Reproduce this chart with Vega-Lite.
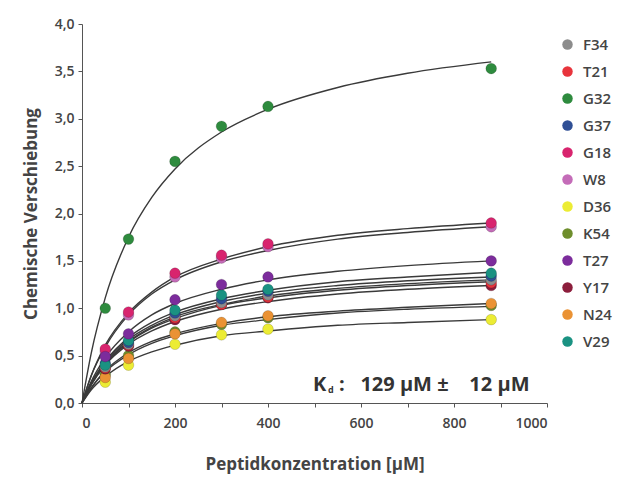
{
  "$schema": "https://vega.github.io/schema/vega-lite/v6.json",
  "width": 465,
  "height": 379,
  "autosize": {"type": "none"},
  "padding": {"left": 82, "top": 24, "right": 83, "bottom": 74},
  "background": "white",
  "config": {
    "view": {"stroke": null},
    "font": "Open Sans",
    "axis": {
      "domainColor": "#555555",
      "tickColor": "#555555",
      "labelColor": "#444444",
      "labelFont": "Open Sans",
      "labelFontSize": 14,
      "labelFontWeight": 600,
      "titleFont": "Open Sans",
      "titleFontSize": 17,
      "titleFontWeight": "bold",
      "titleColor": "#444444",
      "grid": false,
      "tickSize": 4
    }
  },
  "datasets": {
    "curves": [
      {"s":"G32","x":0,"y":0},{"s":"G32","x":20,"y":0.53},{"s":"G32","x":50,"y":1.11},{"s":"G32","x":100,"y":1.75},{"s":"G32","x":150,"y":2.17},{"s":"G32","x":200,"y":2.47},{"s":"G32","x":300,"y":2.86},{"s":"G32","x":400,"y":3.10},{"s":"G32","x":550,"y":3.33},{"s":"G32","x":700,"y":3.48},{"s":"G32","x":880,"y":3.60},
      {"s":"G18","x":0,"y":0},{"s":"G18","x":20,"y":0.29},{"s":"G18","x":50,"y":0.61},{"s":"G18","x":100,"y":0.95},{"s":"G18","x":150,"y":1.17},{"s":"G18","x":200,"y":1.33},{"s":"G18","x":300,"y":1.52},{"s":"G18","x":400,"y":1.65},{"s":"G18","x":550,"y":1.77},{"s":"G18","x":700,"y":1.84},{"s":"G18","x":880,"y":1.90},
      {"s":"W8","x":0,"y":0},{"s":"W8","x":20,"y":0.29},{"s":"W8","x":50,"y":0.59},{"s":"W8","x":100,"y":0.93},{"s":"W8","x":150,"y":1.15},{"s":"W8","x":200,"y":1.30},{"s":"W8","x":300,"y":1.49},{"s":"W8","x":400,"y":1.61},{"s":"W8","x":550,"y":1.73},{"s":"W8","x":700,"y":1.80},{"s":"W8","x":880,"y":1.86},
      {"s":"T27","x":0,"y":0},{"s":"T27","x":20,"y":0.23},{"s":"T27","x":50,"y":0.48},{"s":"T27","x":100,"y":0.75},{"s":"T27","x":150,"y":0.93},{"s":"T27","x":200,"y":1.05},{"s":"T27","x":300,"y":1.20},{"s":"T27","x":400,"y":1.30},{"s":"T27","x":550,"y":1.39},{"s":"T27","x":700,"y":1.45},{"s":"T27","x":880,"y":1.50},
      {"s":"V29","x":0,"y":0},{"s":"V29","x":20,"y":0.21},{"s":"V29","x":50,"y":0.44},{"s":"V29","x":100,"y":0.69},{"s":"V29","x":150,"y":0.85},{"s":"V29","x":200,"y":0.96},{"s":"V29","x":300,"y":1.10},{"s":"V29","x":400,"y":1.19},{"s":"V29","x":550,"y":1.28},{"s":"V29","x":700,"y":1.33},{"s":"V29","x":880,"y":1.38},
      {"s":"G37","x":0,"y":0},{"s":"G37","x":20,"y":0.21},{"s":"G37","x":50,"y":0.43},{"s":"G37","x":100,"y":0.67},{"s":"G37","x":150,"y":0.82},{"s":"G37","x":200,"y":0.93},{"s":"G37","x":300,"y":1.07},{"s":"G37","x":400,"y":1.16},{"s":"G37","x":550,"y":1.24},{"s":"G37","x":700,"y":1.29},{"s":"G37","x":880,"y":1.33},
      {"s":"F34","x":0,"y":0},{"s":"F34","x":20,"y":0.20},{"s":"F34","x":50,"y":0.42},{"s":"F34","x":100,"y":0.65},{"s":"F34","x":150,"y":0.80},{"s":"F34","x":200,"y":0.91},{"s":"F34","x":300,"y":1.04},{"s":"F34","x":400,"y":1.13},{"s":"F34","x":550,"y":1.21},{"s":"F34","x":700,"y":1.26},{"s":"F34","x":880,"y":1.30},
      {"s":"T21","x":0,"y":0},{"s":"T21","x":20,"y":0.20},{"s":"T21","x":50,"y":0.41},{"s":"T21","x":100,"y":0.64},{"s":"T21","x":150,"y":0.79},{"s":"T21","x":200,"y":0.89},{"s":"T21","x":300,"y":1.03},{"s":"T21","x":400,"y":1.11},{"s":"T21","x":550,"y":1.19},{"s":"T21","x":700,"y":1.24},{"s":"T21","x":880,"y":1.28},
      {"s":"Y17","x":0,"y":0},{"s":"Y17","x":20,"y":0.19},{"s":"Y17","x":50,"y":0.40},{"s":"Y17","x":100,"y":0.62},{"s":"Y17","x":150,"y":0.76},{"s":"Y17","x":200,"y":0.86},{"s":"Y17","x":300,"y":0.99},{"s":"Y17","x":400,"y":1.07},{"s":"Y17","x":550,"y":1.15},{"s":"Y17","x":700,"y":1.20},{"s":"Y17","x":880,"y":1.24},
      {"s":"N24","x":0,"y":0},{"s":"N24","x":20,"y":0.16},{"s":"N24","x":50,"y":0.34},{"s":"N24","x":100,"y":0.53},{"s":"N24","x":150,"y":0.65},{"s":"N24","x":200,"y":0.73},{"s":"N24","x":300,"y":0.84},{"s":"N24","x":400,"y":0.91},{"s":"N24","x":550,"y":0.97},{"s":"N24","x":700,"y":1.01},{"s":"N24","x":880,"y":1.05},
      {"s":"K54","x":0,"y":0},{"s":"K54","x":20,"y":0.16},{"s":"K54","x":50,"y":0.33},{"s":"K54","x":100,"y":0.51},{"s":"K54","x":150,"y":0.63},{"s":"K54","x":200,"y":0.71},{"s":"K54","x":300,"y":0.82},{"s":"K54","x":400,"y":0.88},{"s":"K54","x":550,"y":0.95},{"s":"K54","x":700,"y":0.99},{"s":"K54","x":880,"y":1.02},
      {"s":"D36","x":0,"y":0},{"s":"D36","x":20,"y":0.14},{"s":"D36","x":50,"y":0.28},{"s":"D36","x":100,"y":0.44},{"s":"D36","x":150,"y":0.54},{"s":"D36","x":200,"y":0.61},{"s":"D36","x":300,"y":0.71},{"s":"D36","x":400,"y":0.76},{"s":"D36","x":550,"y":0.82},{"s":"D36","x":700,"y":0.85},{"s":"D36","x":880,"y":0.88}
    ],
    "points": [
      {"s":"G32","x":50,"y":1.00},{"s":"G32","x":100,"y":1.73},{"s":"G32","x":200,"y":2.55},{"s":"G32","x":300,"y":2.92},{"s":"G32","x":400,"y":3.13},{"s":"G32","x":880,"y":3.53},
      {"s":"W8","x":50,"y":0.54},{"s":"W8","x":100,"y":0.93},{"s":"W8","x":200,"y":1.33},{"s":"W8","x":300,"y":1.53},{"s":"W8","x":400,"y":1.65},{"s":"W8","x":880,"y":1.86},
      {"s":"G18","x":50,"y":0.57},{"s":"G18","x":100,"y":0.96},{"s":"G18","x":200,"y":1.37},{"s":"G18","x":300,"y":1.56},{"s":"G18","x":400,"y":1.68},{"s":"G18","x":880,"y":1.90},
      {"s":"D36","x":50,"y":0.22},{"s":"D36","x":100,"y":0.40},{"s":"D36","x":200,"y":0.62},{"s":"D36","x":300,"y":0.72},{"s":"D36","x":400,"y":0.78},{"s":"D36","x":880,"y":0.88},
      {"s":"K54","x":50,"y":0.30},{"s":"K54","x":100,"y":0.50},{"s":"K54","x":200,"y":0.75},{"s":"K54","x":300,"y":0.83},{"s":"K54","x":400,"y":0.90},{"s":"K54","x":880,"y":1.03},
      {"s":"N24","x":50,"y":0.27},{"s":"N24","x":100,"y":0.47},{"s":"N24","x":200,"y":0.73},{"s":"N24","x":300,"y":0.85},{"s":"N24","x":400,"y":0.92},{"s":"N24","x":880,"y":1.05},
      {"s":"Y17","x":50,"y":0.36},{"s":"Y17","x":100,"y":0.60},{"s":"Y17","x":200,"y":0.88},{"s":"Y17","x":300,"y":1.04},{"s":"Y17","x":400,"y":1.11},{"s":"Y17","x":880,"y":1.24},
      {"s":"T21","x":50,"y":0.37},{"s":"T21","x":100,"y":0.61},{"s":"T21","x":200,"y":0.90},{"s":"T21","x":300,"y":1.04},{"s":"T21","x":400,"y":1.12},{"s":"T21","x":880,"y":1.27},
      {"s":"F34","x":50,"y":0.38},{"s":"F34","x":100,"y":0.62},{"s":"F34","x":200,"y":0.92},{"s":"F34","x":300,"y":1.06},{"s":"F34","x":400,"y":1.14},{"s":"F34","x":880,"y":1.30},
      {"s":"G37","x":50,"y":0.42},{"s":"G37","x":100,"y":0.64},{"s":"G37","x":200,"y":0.95},{"s":"G37","x":300,"y":1.10},{"s":"G37","x":400,"y":1.18},{"s":"G37","x":880,"y":1.34},
      {"s":"V29","x":50,"y":0.40},{"s":"V29","x":100,"y":0.66},{"s":"V29","x":200,"y":0.98},{"s":"V29","x":300,"y":1.14},{"s":"V29","x":400,"y":1.20},{"s":"V29","x":880,"y":1.37},
      {"s":"T27","x":50,"y":0.49},{"s":"T27","x":100,"y":0.73},{"s":"T27","x":200,"y":1.09},{"s":"T27","x":300,"y":1.25},{"s":"T27","x":400,"y":1.33},{"s":"T27","x":880,"y":1.50}
    ],
    "annot": [{"k": "K", "sub": "d", "rest": ":\u00a0\u00a0\u00a0129 µM ±\u00a0\u00a0\u00a0\u00a012 µM"}]
  },
  "layer": [
    {
      "data": {"name": "curves"},
      "mark": {"type": "line", "interpolate": "monotone", "color": "#3a3a3a", "strokeWidth": 1.4},
      "encoding": {
        "x": {
          "field": "x", "type": "quantitative",
          "scale": {"domain": [0, 1000], "nice": false, "zero": true},
          "axis": {
            "title": "Peptidkonzentration [µM]",
            "values": [0, 100, 200, 300, 400, 500, 600, 700, 800, 900, 1000],
            "labelExpr": "datum.value % 200 === 0 ? format(datum.value, 'd') : ''",
            "titlePadding": 26,
            "labelPadding": 9
          }
        },
        "y": {
          "field": "y", "type": "quantitative",
          "scale": {"domain": [0, 4], "nice": false},
          "axis": {
            "title": "Chemische Verschiebung",
            "values": [0, 0.25, 0.5, 0.75, 1, 1.25, 1.5, 1.75, 2, 2.25, 2.5, 2.75, 3, 3.25, 3.5, 3.75, 4],
            "labelExpr": "(datum.value * 2) % 1 === 0 ? replace(format(datum.value, '.1f'), '.', ',') : ''",
            "titlePadding": 14,
            "labelPadding": 4
          }
        },
        "detail": {"field": "s"}
      }
    },
    {
      "data": {"name": "points"},
      "mark": {"type": "circle", "size": 115, "opacity": 1, "stroke": "#00000033", "strokeWidth": 0.8},
      "encoding": {
        "x": {"field": "x", "type": "quantitative"},
        "y": {"field": "y", "type": "quantitative"},
        "color": {
          "field": "s", "type": "nominal",
          "scale": {
            "domain": ["F34", "T21", "G32", "G37", "G18", "W8", "D36", "K54", "T27", "Y17", "N24", "V29"],
            "range": ["#8c8c8c", "#e8343c", "#2e8b3e", "#2f4f95", "#d8246e", "#c46cb8", "#ecec34", "#6e8e2c", "#7c2c9c", "#8c1e3c", "#ea9234", "#1a9282"]
          },
          "legend": {
            "title": null,
            "orient": "none",
            "legendX": 478,
            "legendY": 13,
            "symbolType": "circle",
            "symbolSize": 110,
            "symbolStrokeWidth": 0,
            "labelFont": "Open Sans",
            "labelFontSize": 15,
            "labelFontWeight": 600,
            "labelColor": "#444444",
            "labelOffset": 8,
            "rowPadding": 11
          }
        }
      }
    },
    {
      "data": {"name": "annot"},
      "mark": {"type": "text", "align": "left", "baseline": "middle", "fontSize": 20, "fontWeight": "bold", "color": "#333333", "font": "Open Sans"},
      "encoding": {
        "x": {"datum": 497},
        "y": {"datum": 0.19},
        "text": {"field": "k"}
      }
    },
    {
      "data": {"name": "annot"},
      "mark": {"type": "text", "align": "left", "baseline": "middle", "fontSize": 9, "fontWeight": "bold", "color": "#333333", "font": "Open Sans", "dx": 15, "dy": 5},
      "encoding": {
        "x": {"datum": 497},
        "y": {"datum": 0.19},
        "text": {"field": "sub"}
      }
    },
    {
      "data": {"name": "annot"},
      "mark": {"type": "text", "align": "left", "baseline": "middle", "fontSize": 20, "fontWeight": "bold", "color": "#333333", "font": "Open Sans", "dx": 26},
      "encoding": {
        "x": {"datum": 497},
        "y": {"datum": 0.19},
        "text": {"field": "rest"}
      }
    }
  ]
}
